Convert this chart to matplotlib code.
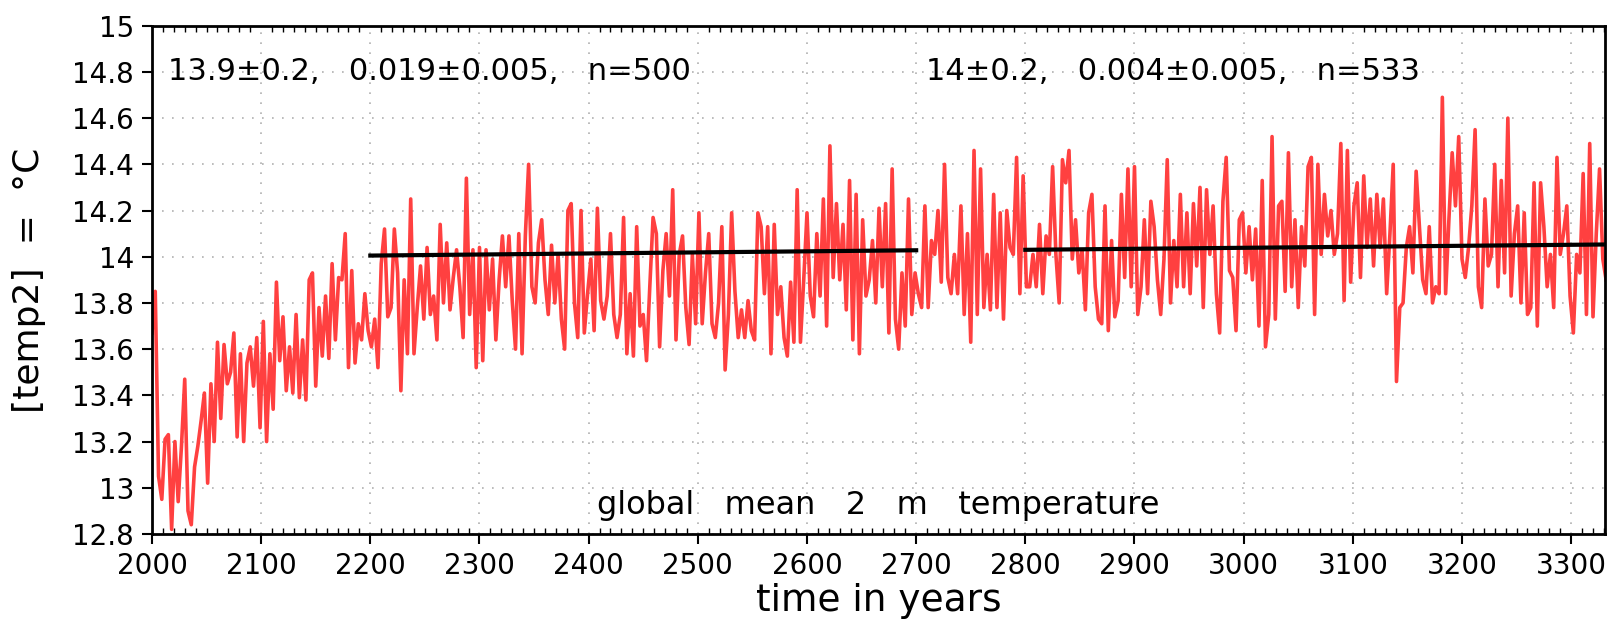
import numpy as np
import matplotlib.pyplot as plt
from matplotlib.ticker import MultipleLocator, FormatStrFormatter

temps_2000 = [13.67, 13.85, 13.05, 12.95, 13.21, 13.23, 12.82, 13.2, 12.94, 13.18,
              13.47, 12.9, 12.84, 13.09, 13.18, 13.29, 13.41, 13.02, 13.45, 13.2,
              13.63, 13.3, 13.62, 13.45, 13.5, 13.67, 13.22, 13.58, 13.2, 13.54,
              13.61, 13.44, 13.65, 13.26, 13.72, 13.2, 13.58, 13.34, 13.89, 13.55,
              13.74, 13.42, 13.61, 13.41, 13.75, 13.39, 13.64, 13.38, 13.9, 13.93,
              13.44, 13.78, 13.57, 13.83, 13.56, 13.97, 13.64, 13.91]
temps_2174 = [13.9, 14.1, 13.52, 13.94, 13.54, 13.71, 13.64, 13.84, 13.68, 13.61,
              13.73, 13.52, 13.97, 14.12, 13.74, 13.78, 14.12, 13.93, 13.42, 13.9,
              13.58, 14.25, 13.58, 13.78, 13.96, 13.73, 14.04, 13.75, 13.83, 13.64,
              14.14, 13.8, 14.06, 13.77, 13.91, 14.03, 13.87, 13.65, 14.34, 13.75,
              14.03, 13.52, 14.04, 13.55, 14.03, 13.77, 13.99, 13.64, 13.9, 14.09,
              13.87, 14.09, 13.81, 13.6, 14.1, 13.58, 14.09, 14.4]
temps_2348 = [13.87, 13.8, 14.06, 14.16, 13.9, 13.75, 14.05, 13.8, 14.01, 13.73,
              13.6, 14.2, 14.23, 13.8, 13.65, 14.2, 13.67, 13.84, 13.99, 13.68,
              14.21, 13.81, 13.73, 13.83, 14.1, 13.75, 13.65, 13.75, 14.17, 13.58,
              13.84, 13.57, 14.13, 13.7, 13.75, 13.55, 13.87, 14.17, 14.1, 13.61,
              13.94, 14.1, 13.83, 14.29, 13.64, 14.01, 14.09, 13.78, 13.62, 14.01,
              13.71, 14.19, 13.71, 13.93, 14.1, 13.71, 13.65]
temps_2519 = [13.8, 14.13, 13.51, 13.75, 14.19, 13.85, 13.65, 13.77, 13.65, 13.81,
              13.68, 13.64, 14.19, 14.13, 13.84, 14.13, 13.58, 14.14, 13.75, 13.87,
              13.65, 13.57, 13.89, 13.63, 14.29, 13.63, 13.9, 14.19, 13.83, 13.74,
              14.1, 13.83, 14.25, 13.7, 14.48, 13.91, 14.23, 13.9, 14.14, 13.77,
              14.33, 13.64, 14.27, 13.58, 14.16, 13.83, 13.9, 14.07, 13.8, 14.21,
              13.87, 14.23, 13.67, 14.38, 13.73, 13.6, 13.93, 13.7, 14.25]
temps_2696 = [13.75, 13.93, 13.84, 13.78, 14.22, 13.78, 14.07, 14.01, 14.2, 13.89,
              14.4, 13.91, 13.84, 14.01, 13.84, 14.22, 13.75, 14.1, 13.63, 14.46,
              13.75, 14.38, 13.78, 14.01, 13.77, 14.27, 13.78, 14.19, 13.73, 14.2,
              14.04, 14.01, 14.43, 13.84, 14.35, 13.87, 13.87, 14.01, 13.87, 14.14,
              13.84, 14.09, 14.01, 14.39, 14.01, 13.8, 14.42, 14.32, 14.46, 13.99,
              14.16, 13.93, 14.03, 13.77, 14.19, 14.27, 13.87, 13.73]
temps_2870 = [13.71, 14.22, 13.68, 14.07, 13.74, 13.81, 14.27, 13.91, 14.38, 13.87,
              14.39, 13.75, 13.87, 14.16, 13.84, 14.24, 14.13, 13.9, 13.75, 13.99,
              14.42, 13.8, 14.07, 13.87, 14.27, 13.87, 14.19, 13.84, 14.23, 13.96,
              14.3, 13.78, 14.29, 14.01, 14.22, 13.84, 13.67, 14.24, 14.43, 13.94,
              13.91, 13.68, 14.16, 14.19, 13.93, 14.13, 13.9, 14.12, 13.7, 14.33,
              13.61, 13.75, 14.52, 13.73, 14.22, 14.24, 13.85, 14.45]
temps_3044 = [13.87, 14.16, 13.78, 14.13, 13.96, 14.39, 14.43, 13.75, 14.4, 14.01,
              14.27, 14.09, 14.2, 14.01, 14.1, 14.49, 13.81, 14.46, 13.89, 14.22,
              14.32, 13.91, 14.35, 14.04, 14.25, 13.96, 14.27, 14.04, 14.25, 13.84,
              14.1, 14.4, 13.46, 13.78, 13.8, 14.04, 14.13, 13.93, 14.37, 14.13,
              13.9, 13.84, 14.13, 13.8, 13.87, 13.84, 14.69, 13.84, 14.16, 14.45,
              14.22, 14.52, 13.99, 13.91, 14.04, 14.22, 14.55]
temps_3215 = [13.87, 13.78, 14.25, 13.96, 14.01, 14.4, 13.87, 14.33, 13.93, 14.6,
              13.83, 14.1, 14.22, 13.8, 14.19, 13.75, 13.78, 14.32, 13.7, 14.32,
              14.13, 13.87, 14.01, 13.78, 14.43, 14.01, 14.1, 14.22, 13.83, 13.67,
              14.01, 13.93, 14.36, 13.75, 14.49, 13.74, 14.1, 14.38, 13.99, 13.9]

temps = (temps_2000 + temps_2174 + temps_2348 + temps_2519 +
         temps_2696 + temps_2870 + temps_3044 + temps_3215)
years = np.arange(2000, 2000 + 3 * len(temps), 3)

# linear trends of the two periods
trend1_years = [2200, 2700]
trend1_vals = [14.005, 14.028]
trend2_years = [2800, 3331]
trend2_vals = [14.03, 14.053]

label1 = "13.9±0.2,   0.019±0.005,   n=500"
label2 = "14±0.2,   0.004±0.005,   n=533"

fig = plt.figure(figsize=(16.1, 6.28), dpi=100)
ax = fig.add_axes([0.0944, 0.1497, 0.9025, 0.8094])

ax.plot(years, temps, color='#ff4040', lw=2.6, zorder=2)
ax.plot(trend1_years, trend1_vals, color='black', lw=3, zorder=3)
ax.plot(trend2_years, trend2_vals, color='black', lw=3, zorder=3)

ax.set_xlim(2000, 3331)
ax.set_ylim(12.8, 15)
ax.xaxis.set_major_locator(MultipleLocator(100))
ax.yaxis.set_major_locator(MultipleLocator(0.2))
ax.yaxis.set_major_formatter(FormatStrFormatter('%g'))
ax.xaxis.set_minor_locator(MultipleLocator(10))
ax.grid(True, color='#b0b0b0', linestyle=(0, (1, 5)), lw=1.2)
ax.tick_params(which='major', direction='out', length=7, width=1.5,
               labelsize=20, pad=6)
ax.tick_params(which='minor', direction='in', length=4, width=1, top=True)
for s in ax.spines.values():
    s.set_linewidth(2)

ax.set_xlabel("time in years", fontsize=27, labelpad=2)
ax.set_ylabel("[temp2]  =  °C", fontsize=26, labelpad=19)

ax.text(0.011, 0.91, label1, transform=ax.transAxes, fontsize=22, va='center')
ax.text(0.533, 0.91, label2, transform=ax.transAxes, fontsize=22, va='center')
ax.text(0.5, 0.057, "global   mean   2   m   temperature", transform=ax.transAxes,
        fontsize=23, ha='center', va='center')

fig.savefig("out.png", dpi=100)
